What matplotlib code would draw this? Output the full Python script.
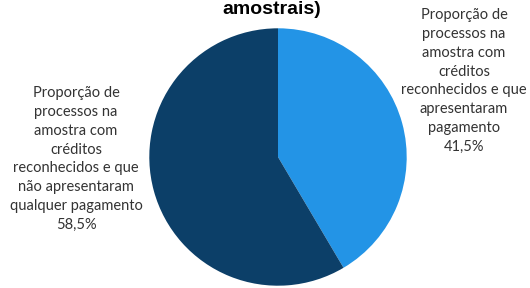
import matplotlib
matplotlib.use("Agg")
import matplotlib.pyplot as plt

categories = ["Proporção de\nprocessos na\namostra com\ncréditos\nreconhecidos e que\napresentaram\npagamento",
              "Proporção de\nprocessos na\namostra com\ncréditos\nreconhecidos e que\nnão apresentaram\nqualquer pagamento"]
values = [41.5, 58.5]
value_labels = ["41,5%", "58,5%"]
colors = ["#2394E6", "#0C3F68"]
title = "amostrais)"

W, H = 530, 288
fig = plt.figure(figsize=(W / 100, H / 100), dpi=100)
cx, cy, r = 278, 157, 128.7
ax = fig.add_axes([(cx - r) / W, (H - cy - r) / H, 2 * r / W, 2 * r / H])
ax.pie(values, colors=colors, startangle=90, counterclock=False, radius=1,
       wedgeprops=dict(linewidth=0))
ax.set_xlim(-1, 1)
ax.set_ylim(-1, 1)
ax.set_aspect("equal")
ax.axis("off")

fig.text(272 / W, 1 - 14 / H, title, ha="center", va="baseline", fontsize=14,
         fontweight="bold", family="Liberation Sans")

lbl_font = dict(family="Lato", fontsize=10.5, color="#333333", ha="center",
                va="center", linespacing=1.45)
fig.text(464 / W, 1 - 81 / H, categories[0] + "\n" + value_labels[0], **lbl_font)
fig.text(76 / W, 1 - 159 / H, categories[1] + "\n" + value_labels[1], **lbl_font)

fig.savefig("out.png", dpi=100)
